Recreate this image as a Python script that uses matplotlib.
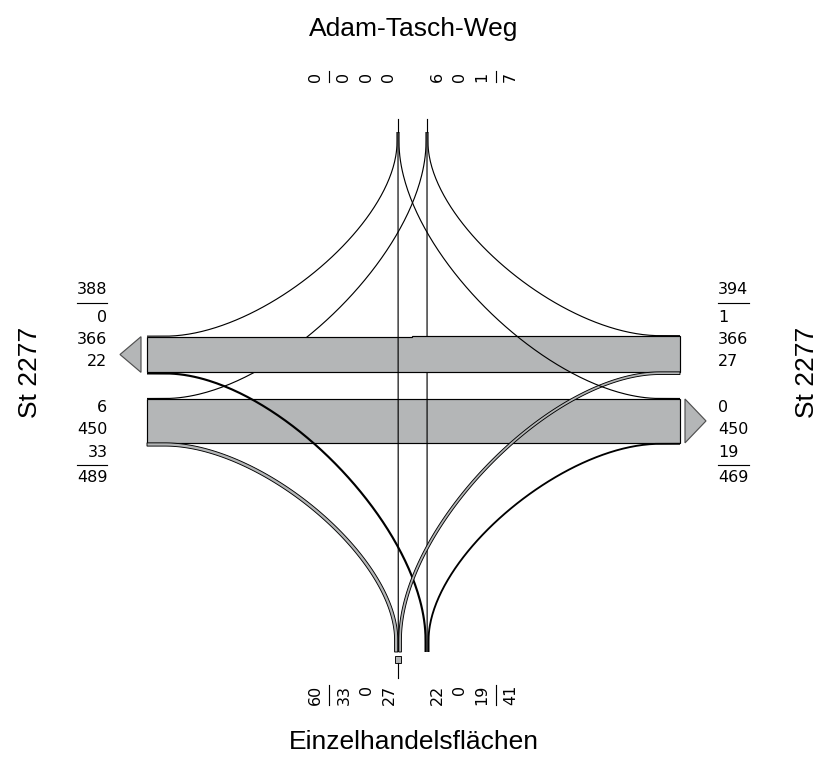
import numpy as np
import matplotlib
matplotlib.use("Agg")
import matplotlib.pyplot as plt
from matplotlib.patches import Polygon, Rectangle

# ---------------- data (vehicles per movement) ----------------
west_in = [6, 450, 33]    # from West  to North, East, South
east_in = [1, 366, 27]    # from East  to North, West, South
north_in = [0, 0, 0]      # from North to West, South, East
south_in = [22, 0, 19]    # from South to West, North, East

title_north = "Adam-Tasch-Weg"
title_south = "Einzelhandelsflächen"
title_west = "St 2277"
title_east = "St 2277"

W_N, W_E, W_S = west_in
E_N, E_W, E_S = east_in
N_W, N_S, N_E = north_in
S_W, S_N, S_E = south_in

# ---------------- layout constants (pixels) ----------------
W_PX, H_PX = 824, 769
SCALE = 0.0975          # px per vehicle
GRAY = "#b4b6b7"
XL, XR = 147.0, 680.0   # arm ends of the bands
XD_L, XD_R = 165.0, 660.0
XM = 412.5
X_A, X_B = 398.0, 427.0
Y_WB = 374.5
Y_EB = 398.0
Y_TOP_END, Y_TOP_TERM, Y_TOP_TIP = 142.0, 132.0, 119.0
Y_BOT_END, Y_BOT_TERM = 640.0, 652.0
PT = 0.72  # points per pixel at dpi 100
THIN = 1.15 * PT

fig = plt.figure(figsize=(W_PX / 100, H_PX / 100), dpi=100)
ax = fig.add_axes([0, 0, 1, 1])
ax.set_xlim(0, W_PX)
ax.set_ylim(H_PX, 0)
ax.axis("off")


def eff(v):
    return max(v * SCALE, 1.0)


def bezier(p0, p1, p2, p3, n=140):
    t = np.linspace(0, 1, n)[:, None]
    return (1 - t) ** 3 * p0 + 3 * (1 - t) ** 2 * t * p1 + 3 * (1 - t) * t ** 2 * p2 + t ** 3 * p3


def flow_path(x_arm, xd, y, xt, y_end, y_term):
    a = 0.42
    p0 = np.array([xd, y])
    p3 = np.array([xt, y_end])
    p1 = np.array([xd + a * (xt - xd), y])
    p2 = np.array([xt, y_end + a * (y - y_end)])
    h = np.column_stack([np.linspace(x_arm, xd, 12), np.full(12, y)])
    b = bezier(p0, p1, p2, p3)
    v = np.column_stack([np.full(12, xt), np.linspace(y_end, y_term, 12)])
    return np.vstack([h, b[1:], v[1:]])


def draw_strip(pts, v, z):
    w = v * SCALE
    if w >= 2.4:
        d = np.gradient(pts, axis=0)
        n = np.column_stack([-d[:, 1], d[:, 0]])
        n /= np.linalg.norm(n, axis=1)[:, None]
        left = pts + n * w / 2
        right = pts - n * w / 2
        poly = np.vstack([left, right[::-1]])
        ax.add_patch(Polygon(poly, closed=True, fc=GRAY, ec="black", lw=0.65, zorder=z))
    else:
        ax.plot(pts[:, 0], pts[:, 1], color="black", lw=max(w * PT, THIN),
                zorder=z, solid_capstyle="butt", solid_joinstyle="round")


def bundle(xc, vals):
    ws = [eff(v) for v in vals]
    tot = sum(ws)
    x = xc - tot / 2
    cs = []
    for w in ws:
        cs.append(x + w / 2)
        x += w
    return cs, tot


# ---- westbound carriageway (upper band) ----
yl = Y_WB
sw_c = yl - eff(S_W) / 2
yl -= eff(S_W)
ewl_bot = yl
yl -= E_W * SCALE
ewl_top = yl
nw_c = yl - eff(N_W) / 2

yr = Y_WB
es_c = yr - eff(E_S) / 2
yr -= eff(E_S)
ewr_bot = yr
yr -= E_W * SCALE
ewr_top = yr
en_c = yr - eff(E_N) / 2

# ---- eastbound carriageway (lower band) ----
yl = Y_EB
wn_c = yl + eff(W_N) / 2
yl += eff(W_N)
wel_top = yl
yl += W_E * SCALE
wel_bot = yl
ws_c = yl + eff(W_S) / 2

yr = Y_EB
ne_c = yr + eff(N_E) / 2
yr += eff(N_E)
wer_top = yr
yr += W_E * SCALE
wer_bot = yr
se_c = yr + eff(S_E) / 2

# ---- terminal bundles ----
tl_c, tl_w = bundle(X_A, [N_W, N_S, N_E])   # north inflow
tr_c, tr_w = bundle(X_B, [W_N, S_N, E_N])   # north outflow
bl_c, bl_w = bundle(X_A, [W_S, N_S, E_S])   # south outflow
br_c, br_w = bundle(X_B, [S_W, S_N, S_E])   # south inflow


def band(xl, xr, tl, bl, tr, br, z):
    poly = [(xr, tr), (XM, tr), (XM, tl), (xl, tl), (xl, bl), (XM, bl), (XM, br), (xr, br)]
    ax.add_patch(Polygon(poly, closed=True, fc=GRAY, ec="black", lw=0.85, zorder=z))


# West inflow
band(XL, XR, wel_top, wel_bot, wer_top, wer_bot, 2)
draw_strip(flow_path(XL, XD_L, wn_c, tr_c[0], Y_TOP_END, Y_TOP_TERM), W_N, 2.1)
draw_strip(flow_path(XL, XD_L, ws_c, bl_c[0], Y_BOT_END, Y_BOT_TERM), W_S, 2.1)

# South inflow
draw_strip(flow_path(XL, XD_L, sw_c, br_c[0], Y_BOT_END, Y_BOT_TERM), S_W, 3)
draw_strip(flow_path(XR, XD_R, se_c, br_c[2], Y_BOT_END, Y_BOT_TERM), S_E, 3)
draw_strip(np.array([[br_c[1], Y_BOT_TERM], [tr_c[1], Y_TOP_TERM]]), S_N, 3)

# East inflow
band(XL, XR, ewl_top, ewl_bot, ewr_top, ewr_bot, 4)
draw_strip(flow_path(XR, XD_R, en_c, tr_c[2], Y_TOP_END, Y_TOP_TERM), E_N, 4.1)
draw_strip(flow_path(XR, XD_R, es_c, bl_c[2], Y_BOT_END, Y_BOT_TERM), E_S, 4.1)

# North inflow
draw_strip(flow_path(XL, XD_L, nw_c, tl_c[0], Y_TOP_END, Y_TOP_TERM), N_W, 5)
draw_strip(flow_path(XR, XD_R, ne_c, tl_c[2], Y_TOP_END, Y_TOP_TERM), N_E, 5)
draw_strip(np.array([[tl_c[1], Y_TOP_TERM], [bl_c[1], Y_BOT_TERM]]), N_S, 5)

# terminal stubs
for xc in (X_A, X_B):
    ax.plot([xc, xc], [Y_TOP_TERM, Y_TOP_TIP], color="black", lw=THIN, zorder=6)
ax.add_patch(Rectangle((X_A - bl_w / 2, 656), bl_w, 7, fc=GRAY, ec="black", lw=0.65, zorder=6))
ax.plot([X_A, X_A], [663, 678], color="black", lw=THIN, zorder=6)

# outflow arrows
ax.add_patch(Polygon([(141, ewl_top), (141, ewl_bot), (120, (ewl_top + ewl_bot) / 2)],
                     closed=True, fc=GRAY, ec="#505050", lw=0.85, zorder=6))
ax.add_patch(Polygon([(685, wer_top), (685, wer_bot), (706, (wer_top + wer_bot) / 2)],
                     closed=True, fc=GRAY, ec="#505050", lw=0.85, zorder=6))

# ---------------- labels ----------------
NUM_FONT = dict(family="DejaVu Sans", fontsize=11.5, color="black")
DIGIT_W = 10.2


def side_list(x, ha, sum_first, vals, y0):
    total = sum(vals)
    items = [str(v) for v in vals]
    maxlen = max(len(s) for s in items + [str(total)]) * DIGIT_W
    x0, x1 = (x - maxlen, x) if ha == "right" else (x, x + maxlen)
    if sum_first:
        ys = [y0, y0 + 28.5, y0 + 50.5, y0 + 72.5]
        ax.text(x, ys[0], str(total), ha=ha, va="center", **NUM_FONT)
        ax.plot([x0, x1], [y0 + 14, y0 + 14], color="black", lw=THIN)
        for s, y in zip(items, ys[1:]):
            ax.text(x, y, s, ha=ha, va="center", **NUM_FONT)
    else:
        ys = [y0, y0 + 22.5, y0 + 45]
        for s, y in zip(items, ys):
            ax.text(x, y, s, ha=ha, va="center", **NUM_FONT)
        ax.plot([x0, x1], [y0 + 57.5, y0 + 57.5], color="black", lw=THIN)
        ax.text(x, y0 + 70, str(total), ha=ha, va="center", **NUM_FONT)


side_list(107.5, "right", True, [N_W, E_W, S_W], 289)
side_list(107.5, "right", False, [W_N, W_E, W_S], 407.5)
side_list(718, "left", True, [E_N, E_W, E_S], 289)
side_list(718, "left", False, [N_E, W_E, S_E], 407.5)


def rot_list(x0, sum_first, vals, y, va):
    total = sum(vals)
    items = [str(v) for v in vals]
    maxlen = max(len(s) for s in items + [str(total)]) * DIGIT_W
    if va == "bottom":
        y0, y1 = y, y - maxlen
    else:
        y0, y1 = y, y + maxlen
    if sum_first:
        xs = [x0, x0 + 28.5, x0 + 51, x0 + 73.5]
        ax.text(xs[0], y, str(total), ha="center", va=va, rotation=90, **NUM_FONT)
        ax.plot([x0 + 14, x0 + 14], [y0, y1], color="black", lw=THIN)
        for s, xx in zip(items, xs[1:]):
            ax.text(xx, y, s, ha="center", va=va, rotation=90, **NUM_FONT)
    else:
        xs = [x0, x0 + 22, x0 + 44.5]
        for s, xx in zip(items, xs):
            ax.text(xx, y, s, ha="center", va=va, rotation=90, **NUM_FONT)
        ax.plot([x0 + 59, x0 + 59], [y0, y1], color="black", lw=THIN)
        ax.text(x0 + 73, y, str(total), ha="center", va=va, rotation=90, **NUM_FONT)


rot_list(315.5, True, [N_E, N_S, N_W], 81.5, "bottom")
rot_list(437.5, False, [W_N, S_N, E_N], 81.5, "bottom")
rot_list(315.5, True, [W_S, N_S, E_S], 685, "top")
rot_list(437.5, False, [S_W, S_N, S_E], 685, "top")

TITLE_FONT = dict(family="Liberation Sans", fontsize=19, color="black")
ax.text(414, 29, title_north, ha="center", va="center", **TITLE_FONT)
ax.text(414, 742, title_south, ha="center", va="center", **TITLE_FONT)
ax.text(30, 372, title_west, ha="center", va="center", rotation=90, **TITLE_FONT)
ax.text(807, 372, title_east, ha="center", va="center", rotation=90, **TITLE_FONT)

fig.savefig("out.png", dpi=100, facecolor="white")
